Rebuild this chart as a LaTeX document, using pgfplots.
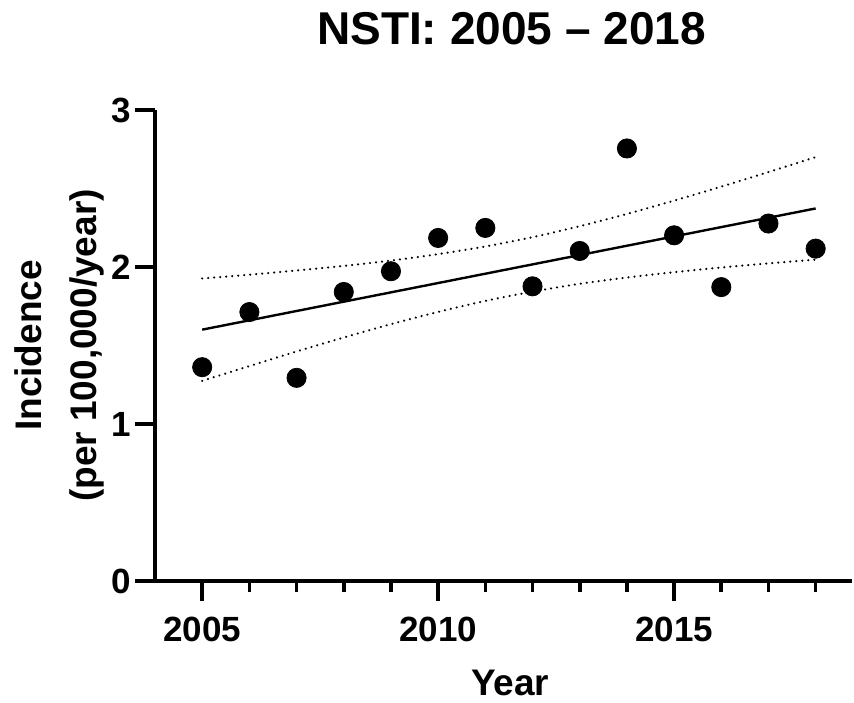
\documentclass[border=0pt]{standalone}
\usepackage{pgfplots}
\pgfplotsset{compat=1.18}
\usepackage{fontspec}
\setmainfont{Liberation Sans}
\begin{document}
\begin{tikzpicture}
\begin{axis}[
  name=ax,
  scale only axis, width=348.5pt, height=235.5pt,
  at={(0,0)}, anchor=origin,
  xmin=2004, xmax=2018.77, ymin=0, ymax=3,
  axis x line*=bottom, axis y line*=left,
  axis line style={line width=1.8pt, -},
  xtick={2005,2010,2015}, xticklabels={2005,2010,2015},
  minor xtick={2006,2007,2008,2009,2011,2012,2013,2014,2016,2017,2018},
  ytick={0,1,2,3}, yticklabels={0,1,2,3},
  tick align=outside,
  major tick length=10pt, minor tick length=5.5pt,
  every tick/.style={black, line width=1.8pt},
  xticklabel style={font=\fontsize{17.5}{20}\selectfont\bfseries, inner sep=0pt, anchor=base, yshift=-20pt},
  yticklabel style={font=\fontsize{17.5}{20}\selectfont\bfseries, inner sep=0pt, anchor=east, xshift=-2pt},
  title={NSTI: 2005 -- 2018},
  title style={font=\fontsize{23}{27}\selectfont\bfseries, at={(axis description cs:0.5,1)}, anchor=base, yshift=27pt, xshift=4pt, inner sep=0pt},
  xlabel={Year},
  xlabel style={font=\fontsize{18.5}{22}\selectfont\bfseries, at={(axis description cs:0.5,0)}, anchor=base, yshift=-57pt, xshift=3.3pt, inner sep=0pt},
  ylabel={Incidence\\(per 100,000/year)},
  ylabel style={font=\fontsize{18.5}{27.5}\selectfont\bfseries, align=center, at={(axis description cs:-0.072,0.5)}, anchor=south, rotate=0, inner sep=0pt},
  clip=false,
]
% 95% confidence band (upper / lower)
\addplot[black, line width=1.2pt, line cap=round, dash pattern=on 0.01pt off 3pt, smooth] coordinates {
(2005,1.927) (2006,1.951) (2007,1.978) (2008,2.007) (2009,2.041) (2010,2.082) (2011,2.131)
(2012,2.190) (2013,2.260) (2014,2.338) (2015,2.423) (2016,2.512) (2017,2.605) (2018,2.700)};
\addplot[black, line width=1.2pt, line cap=round, dash pattern=on 0.01pt off 3pt, smooth] coordinates {
(2005,1.275) (2006,1.369) (2007,1.462) (2008,1.551) (2009,1.636) (2010,1.714) (2011,1.784)
(2012,1.843) (2013,1.893) (2014,1.933) (2015,1.967) (2016,1.997) (2017,2.023) (2018,2.047)};
% regression line
\addplot[black, line width=1.2pt] coordinates {(2005,1.601) (2018,2.373)};
% data
\addplot[only marks, mark=*, mark size=4.8pt, black] coordinates {
(2005,1.362) (2006,1.713) (2007,1.294) (2008,1.841) (2009,1.973) (2010,2.185) (2011,2.249)
(2012,1.877) (2013,2.102) (2014,2.755) (2015,2.202) (2016,1.872) (2017,2.277) (2018,2.117)};
\end{axis}
\pgfresetboundingbox
\useasboundingbox (-77.5pt,-60.5pt) rectangle (349.5pt,290.5pt);
\end{tikzpicture}
\end{document}
